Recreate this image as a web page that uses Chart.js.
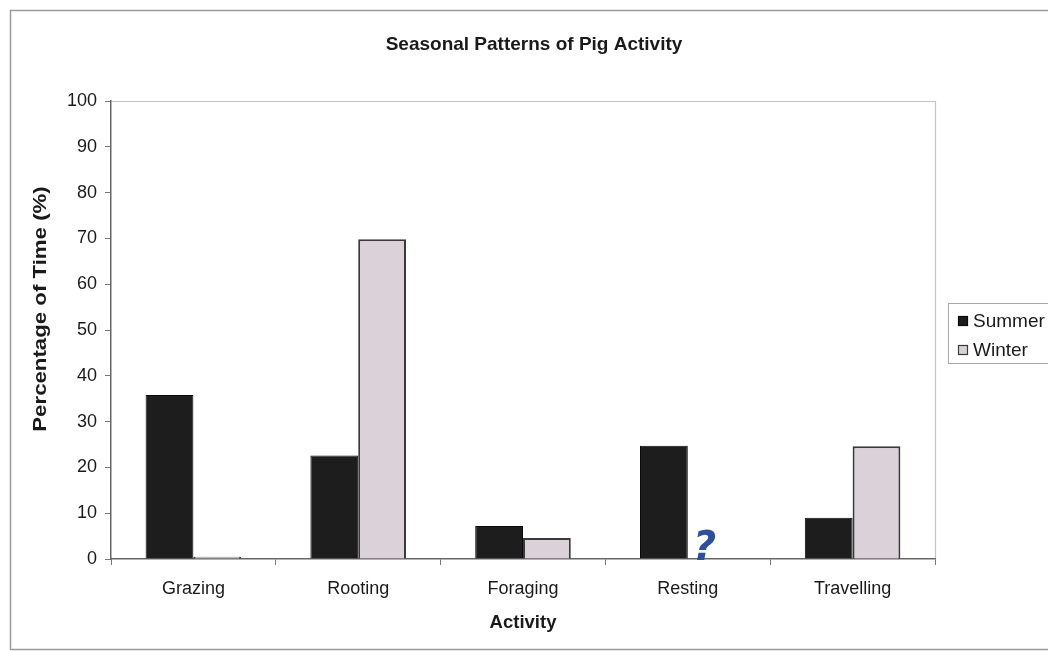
<!DOCTYPE html>
<html>
<head>
<meta charset="utf-8">
<script src="https://cdn.jsdelivr.net/npm/chart.js@4/dist/chart.umd.min.js"></script>
<style>
  html, body { margin: 0; padding: 0; background: #fff; }
  #wrap { width: 1048px; height: 652px; }
</style>
</head>
<body>
<div id="wrap"><canvas id="c" width="1048" height="652"></canvas></div>
<script>
// Activity categories and share of time spent (%) per season
const activities = ['Grazing', 'Rooting', 'Foraging', 'Resting', 'Travelling'];
const summerValues = [35.8, 22.6, 7.2, 24.7, 9.0];
const winterValues = [0.5, 69.8, 4.6, 0, 24.6];
const seriesNames = ['Summer', 'Winter'];
const yTicks = [0, 10, 20, 30, 40, 50, 60, 70, 80, 90, 100];
const chartTitle = 'Seasonal Patterns of Pig Activity';
const yTitle = 'Percentage of Time (%)';
const xTitle = 'Activity';

const FONT = '"Liberation Sans", Arial, sans-serif';

// Outer frame, plot border (top/right), titles, legend box and the margin note
const decorations = {
  id: 'decorations',
  beforeDraw(chart) {
    const ctx = chart.ctx;
    const a = chart.chartArea;
    ctx.save();
    ctx.fillStyle = '#fff';
    ctx.fillRect(0, 0, chart.width, chart.height);
    // outer frame
    ctx.strokeStyle = '#9a9a9a';
    ctx.lineWidth = 1.5;
    ctx.strokeRect(10.5, 10.5, 1100, 639);
    // plot area border, top and right
    ctx.strokeStyle = '#c4c4c4';
    ctx.lineWidth = 1.2;
    ctx.beginPath();
    ctx.moveTo(a.left, a.top + 0.5);
    ctx.lineTo(a.right + 0.5, a.top + 0.5);
    ctx.lineTo(a.right + 0.5, a.bottom);
    ctx.stroke();
    ctx.restore();
  },
  afterDraw(chart) {
    const ctx = chart.ctx;
    ctx.save();
    // chart title
    ctx.fillStyle = '#1a1a1a';
    ctx.font = 'bold 19px ' + FONT;
    ctx.textAlign = 'center';
    ctx.textBaseline = 'middle';
    ctx.fillText(chartTitle, 534, 45);
    // y axis title, slightly widened along its length
    ctx.save();
    ctx.translate(41, 309);
    ctx.rotate(-Math.PI / 2);
    ctx.scale(1.17, 1);
    ctx.font = 'bold 19px ' + FONT;
    ctx.fillText(yTitle, 0, 0);
    ctx.restore();
    // legend box
    ctx.strokeStyle = '#a8a8a8';
    ctx.lineWidth = 1;
    ctx.strokeRect(948.5, 303.5, 120, 60);
    ctx.font = '19px ' + FONT;
    ctx.textBaseline = 'middle';
    ctx.textAlign = 'left';
    chart.data.datasets.forEach((ds, i) => {
      const y = 321 + i * 29;
      ctx.fillStyle = ds.backgroundColor;
      ctx.fillRect(958, y - 5, 10, 10);
      ctx.strokeStyle = ds.borderColor;
      ctx.lineWidth = 1.2;
      ctx.strokeRect(958.5, y - 4.5, 9, 9);
      ctx.fillStyle = '#1a1a1a';
      ctx.fillText(ds.label, 973, y + 1);
    });
    // handwritten query beside the Resting winter bar
    const bar = chart.getDatasetMeta(1).data[3];
    ctx.fillStyle = '#2d4f9e';
    ctx.font = 'italic bold 40px "DejaVu Sans", sans-serif';
    ctx.textAlign = 'center';
    ctx.textBaseline = 'alphabetic';
    ctx.fillText('?', bar.x - 7, chart.scales.y.getPixelForValue(0) + 1);
    ctx.restore();
  }
};

new Chart(document.getElementById('c'), {
  type: 'bar',
  data: {
    labels: activities,
    datasets: [
      {
        label: seriesNames[0],
        data: summerValues,
        backgroundColor: '#1d1d1d',
        borderColor: '#0a0a0a',
        borderWidth: 1
      },
      {
        label: seriesNames[1],
        data: winterValues,
        backgroundColor: '#dad2d8',
        borderColor: '#3a3a3a',
        borderWidth: 2
      }
    ]
  },
  options: {
    responsive: false,
    animation: false,
    devicePixelRatio: 1,
    layout: { padding: { left: 0, right: 113, top: 101, bottom: 0 } },
    datasets: {
      bar: { categoryPercentage: 0.58, barPercentage: 1.0 }
    },
    plugins: {
      legend: { display: false },
      tooltip: { enabled: false },
      title: { display: false }
    },
    scales: {
      x: {
        offset: true,
        grid: { offset: true, drawOnChartArea: false, drawTicks: true, tickLength: 6, color: '#777' },
        border: { color: '#666', width: 1.5 },
        ticks: { color: '#1a1a1a', font: { family: FONT, size: 18 }, padding: 13 },
        title: {
          display: true,
          text: xTitle,
          color: '#1a1a1a',
          font: { family: FONT, size: 18.5, weight: 'bold' },
          padding: { top: 0, bottom: 18 }
        },
        afterFit(s) { s.height = 93; }
      },
      y: {
        min: 0,
        max: 100,
        afterBuildTicks(s) { s.ticks = yTicks.map(v => ({ value: v })); },
        grid: { drawOnChartArea: false, drawTicks: true, tickLength: 6, color: '#777' },
        border: { color: '#666', width: 1.5 },
        ticks: { color: '#1a1a1a', font: { family: FONT, size: 18 }, padding: 8 },
        title: { display: false },
        afterFit(s) { s.width = 111; }
      }
    }
  },
  plugins: [decorations]
});
</script>
</body>
</html>
